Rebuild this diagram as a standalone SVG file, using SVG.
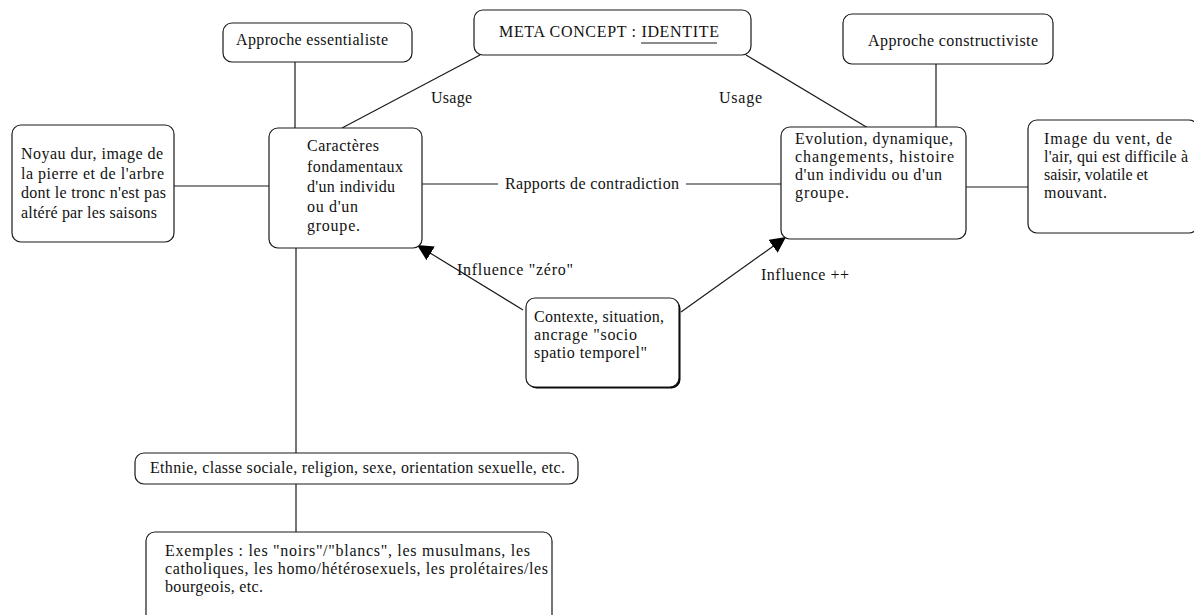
<svg xmlns="http://www.w3.org/2000/svg" width="1194" height="615" viewBox="0 0 1194 615">
<style>
.box{fill:#fff;stroke:#1a1a1a;stroke-width:1.2}
.ln{stroke:#1a1a1a;stroke-width:1.2;fill:none}
text{font-family:"Liberation Serif","DejaVu Serif",serif;font-size:16px;fill:#111}
</style>
<defs>
<marker id="ah" viewBox="0 0 10 10" refX="10" refY="5" markerWidth="16" markerHeight="16" markerUnits="userSpaceOnUse" orient="auto">
<path d="M0,0 L10,5 L0,10 z" fill="#000"/>
</marker>
</defs>
<rect width="1194" height="615" fill="#fff"/>
<g id="connectors">
<line class="ln" x1="295" y1="62" x2="295" y2="128"/>
<line class="ln" x1="174" y1="186" x2="269" y2="186"/>
<line class="ln" x1="480" y1="55" x2="342" y2="128"/>
<line class="ln" x1="746" y1="55" x2="868" y2="128"/>
<line class="ln" x1="422" y1="184" x2="498" y2="184"/>
<line class="ln" x1="686" y1="184" x2="781" y2="184"/>
<line class="ln" x1="936" y1="64" x2="936" y2="127"/>
<line class="ln" x1="966" y1="187" x2="1028" y2="187"/>
<line class="ln" x1="296" y1="248" x2="296" y2="453"/>
<line class="ln" x1="296" y1="484" x2="296" y2="532"/>
<line class="ln" x1="523" y1="310" x2="417" y2="245" marker-end="url(#ah)"/>
<line class="ln" x1="681" y1="312" x2="786" y2="237" marker-end="url(#ah)"/>
<text x="431" y="103" textLength="41" lengthAdjust="spacing">Usage</text>
<text x="719" y="103" textLength="43" lengthAdjust="spacing">Usage</text>
<text x="505" y="189" textLength="174" lengthAdjust="spacing">Rapports de contradiction</text>
<text x="457" y="275" textLength="116" lengthAdjust="spacing">Influence "zéro"</text>
<text x="761" y="280" textLength="88" lengthAdjust="spacing">Influence ++</text>
</g>
<g id="essentialiste">
<rect class="box" x="223" y="23" width="189" height="39" rx="9"/>
<text x="236" y="45" textLength="152" lengthAdjust="spacing">Approche essentialiste</text>
</g>
<g id="meta">
<rect class="box" x="474" y="10" width="277" height="45" rx="9"/>
<text x="499" y="37" textLength="220" lengthAdjust="spacing">META CONCEPT : IDENTITE</text>
<line class="ln" x1="641" y1="43" x2="717" y2="43"/>
</g>
<g id="constructiviste">
<rect class="box" x="843" y="14" width="210" height="50" rx="9"/>
<text x="868" y="46" textLength="170" lengthAdjust="spacing">Approche constructiviste</text>
</g>
<g id="noyau">
<rect class="box" x="12" y="125" width="162" height="117" rx="9"/>
<text x="21" y="159" textLength="142" lengthAdjust="spacing">Noyau dur, image de</text>
<text x="21" y="179" textLength="143" lengthAdjust="spacing">la pierre et de l'arbre</text>
<text x="21" y="198" textLength="145" lengthAdjust="spacing">dont le tronc n'est pas</text>
<text x="21" y="218" textLength="136" lengthAdjust="spacing">altéré par les saisons</text>
</g>
<g id="caracteres">
<rect class="box" x="269" y="128" width="153" height="120" rx="9"/>
<text x="307" y="151" textLength="72" lengthAdjust="spacing">Caractères</text>
<text x="307" y="172" textLength="96" lengthAdjust="spacing">fondamentaux</text>
<text x="307" y="192" textLength="88" lengthAdjust="spacing">d'un individu</text>
<text x="307" y="212" textLength="51" lengthAdjust="spacing">ou d'un</text>
<text x="307" y="231" textLength="53" lengthAdjust="spacing">groupe.</text>
</g>
<g id="evolution">
<rect class="box" x="781" y="127" width="185" height="112" rx="9"/>
<text x="795" y="144" textLength="158" lengthAdjust="spacing">Evolution, dynamique,</text>
<text x="795" y="162" textLength="159" lengthAdjust="spacing">changements, histoire</text>
<text x="795" y="180" textLength="147" lengthAdjust="spacing">d'un individu ou d'un</text>
<text x="795" y="198" textLength="54" lengthAdjust="spacing">groupe.</text>
</g>
<g id="vent">
<rect class="box" x="1028" y="120" width="170" height="113" rx="9"/>
<text x="1044" y="144" textLength="128" lengthAdjust="spacing">Image du vent, de</text>
<text x="1044" y="162" textLength="144" lengthAdjust="spacing">l'air, qui est difficile à</text>
<text x="1044" y="180" textLength="104" lengthAdjust="spacing">saisir, volatile et</text>
<text x="1044" y="198" textLength="63" lengthAdjust="spacing">mouvant.</text>
</g>
<g id="contexte">
<rect x="527.5" y="299.5" width="153" height="89" rx="9" fill="#000"/>
<rect class="box" x="526" y="298" width="153" height="89" rx="9"/>
<text x="534" y="322" textLength="130" lengthAdjust="spacing">Contexte, situation,</text>
<text x="534" y="340" textLength="103" lengthAdjust="spacing">ancrage "socio</text>
<text x="534" y="358" textLength="113" lengthAdjust="spacing">spatio temporel"</text>
</g>
<g id="ethnie">
<rect class="box" x="135" y="453" width="443" height="31" rx="9"/>
<text x="150" y="473" textLength="415" lengthAdjust="spacing">Ethnie, classe sociale, religion, sexe, orientation sexuelle, etc.</text>
</g>
<g id="exemples">
<rect class="box" x="146" y="532" width="406" height="110" rx="9"/>
<text x="165" y="556" textLength="365" lengthAdjust="spacing">Exemples : les "noirs"/"blancs", les musulmans, les</text>
<text x="165" y="574" textLength="383" lengthAdjust="spacing">catholiques, les homo/hétérosexuels, les prolétaires/les</text>
<text x="165" y="592" textLength="98" lengthAdjust="spacing">bourgeois, etc.</text>
</g>
</svg>
